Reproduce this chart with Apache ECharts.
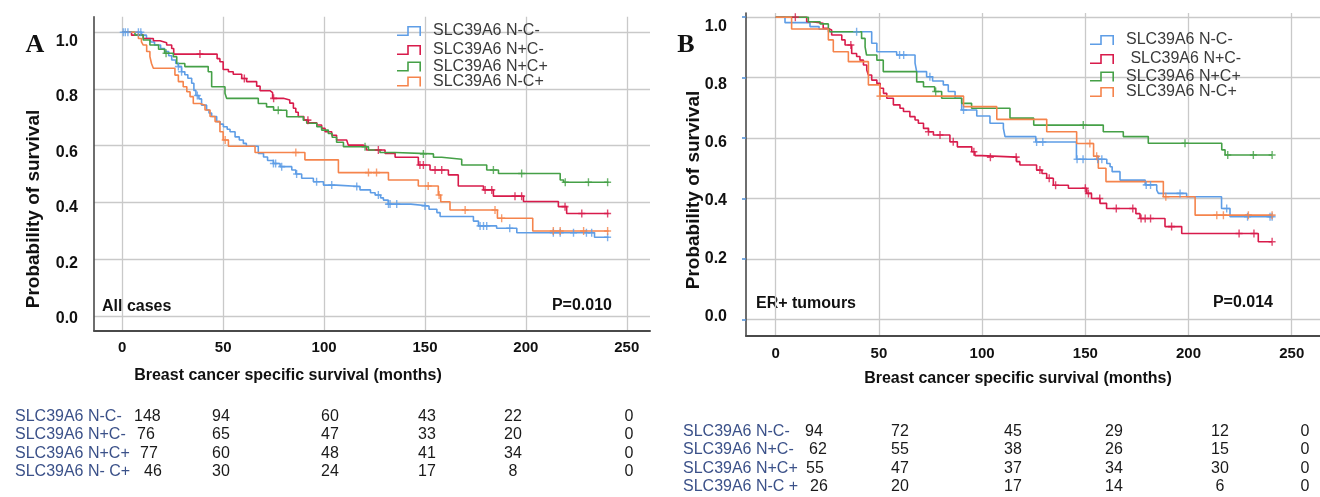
<!DOCTYPE html>
<html><head><meta charset="utf-8">
<script src="https://cdn.jsdelivr.net/npm/echarts@6.0.0/dist/echarts.min.js"></script>
<style>html,body{margin:0;padding:0;background:#fff}#c{width:1320px;height:497px}</style>
</head><body><div id="c"></div>
<script>
// ---------- data ----------
const xTicks = [0, 50, 100, 150, 200, 250];
const yTicks = [0, 0.2, 0.4, 0.6, 0.8, 1.0];
const groupNames = ['SLC39A6 N-C-', 'SLC39A6 N+C-', 'SLC39A6 N+C+', 'SLC39A6 N-C+'];
const legendTextA = ['SLC39A6 N-C-', 'SLC39A6 N+C-', 'SLC39A6 N+C+', 'SLC39A6 N-C+'];
const legendTextB = ['SLC39A6 N-C-', ' SLC39A6 N+C-', 'SLC39A6 N+C+', 'SLC39A6 N-C+'];

// Panel A (All cases): Kaplan-Meier steps [month, survival]
const kmA_NCneg = [[0,1],[9.6,0.99],[12,0.978],[14,0.966],[16,0.955],[19,0.943],[21,0.932],[23,0.917],[24.5,0.902],[26.5,0.89],[27.8,0.879],[29.4,0.861],[31,0.85],[32.5,0.838],[34.4,0.82],[35.5,0.795],[36.5,0.777],[38,0.765],[39.3,0.743],[41.8,0.726],[43,0.715],[44.3,0.703],[46.8,0.685],[48.5,0.676],[50.1,0.667],[52,0.658],[53.4,0.649],[55.9,0.631],[58,0.62],[60,0.608],[61.5,0.598],[67.4,0.573],[70,0.56],[72,0.548],[74.9,0.537],[78.2,0.526],[84,0.514],[86,0.5],[88.9,0.485],[94.7,0.473],[99.7,0.461],[106,0.456],[117.8,0.444],[123,0.434],[125.3,0.426],[128,0.416],[129.4,0.408],[131.8,0.394],[143,0.387],[152,0.376],[155.9,0.364],[157.5,0.35],[174,0.334],[176.5,0.317],[185.5,0.309],[195.5,0.293],[234,0.277],[241,0.277]];
const kmA_NposCneg = [[0,1],[4.6,0.99],[10.4,0.978],[15.4,0.97],[18.7,0.963],[22,0.955],[24.5,0.943],[25.5,0.923],[47,0.907],[48.4,0.896],[50,0.869],[52.6,0.861],[55,0.852],[59.2,0.837],[61.6,0.826],[66.6,0.81],[68.3,0.794],[73.2,0.787],[74.5,0.767],[79.8,0.761],[83,0.75],[84.8,0.732],[86,0.718],[87.2,0.703],[90,0.69],[92.2,0.681],[96.4,0.673],[98.8,0.661],[100.5,0.649],[103.8,0.637],[106.2,0.62],[111.2,0.614],[112,0.602],[119.5,0.597],[121,0.585],[130.2,0.573],[135.2,0.559],[146.7,0.532],[152.5,0.514],[161.6,0.497],[166.5,0.458],[179,0.444],[183.9,0.422],[198.8,0.403],[216.1,0.385],[220.2,0.361],[241,0.361]];
const kmA_NposCpos = [[0,1],[6.3,0.99],[10.4,0.973],[13.7,0.955],[18,0.94],[21,0.926],[25.3,0.914],[27,0.89],[31,0.879],[42.6,0.861],[44.3,0.808],[50.9,0.785],[51.7,0.767],[67.4,0.749],[71.5,0.737],[75,0.725],[81.5,0.702],[89.7,0.69],[91.4,0.679],[96.4,0.667],[98.8,0.655],[102.1,0.643],[104,0.63],[106.2,0.612],[109.6,0.596],[122,0.585],[127.7,0.576],[135.2,0.571],[154.2,0.559],[158.3,0.552],[168.2,0.532],[180.6,0.514],[186.4,0.502],[217,0.479],[218.7,0.471],[241,0.471]];
const kmA_NCpos = [[0,1],[8,0.978],[9.5,0.966],[10.4,0.955],[12.1,0.932],[13.7,0.914],[14.5,0.89],[15.4,0.873],[26.1,0.849],[27.8,0.826],[30.2,0.808],[32,0.79],[33.6,0.773],[35.2,0.749],[38.5,0.743],[41,0.726],[43.5,0.703],[46,0.685],[48.4,0.649],[50,0.62],[52.6,0.598],[65.8,0.576],[90.5,0.55],[107.1,0.505],[131.9,0.479],[146.7,0.458],[156.6,0.426],[157.8,0.402],[162.4,0.373],[185.9,0.344],[203.4,0.299],[241,0.299]];
// censoring times (months)
const censA_NCneg = [0.5,1.5,2.8,8,9.2,27.8,29.4,37.2,74.9,76,79,86.4,96.3,103.8,116.2,126.9,131.9,132.7,136,150,177.3,179,180.6,192,213.6,217,223.6,230,232.6,240.5];
const censA_NposCneg = [38.5,60.5,75,92,126.9,147.5,149.2,155,158.3,179.8,183.1,194.6,197.9,219.4,227.7,240.5];
const censA_NposCpos = [21.7,77.3,120.3,149.2,183.9,197.9,219.5,231,240.5];
const censA_NCpos = [51,86,122,126,151.6,157,169.9,184.7,188,213.6,217,228.6,240.5];

// Panel B (ER+ tumours)
const kmB_NCneg = [[0,1],[4.5,0.982],[16.6,0.969],[21,0.96],[25.5,0.952],[46.5,0.914],[49,0.886],[58.6,0.875],[67.5,0.848],[68.3,0.82],[73.1,0.803],[76,0.789],[81.2,0.776],[83.6,0.754],[86.9,0.732],[90.1,0.693],[97.4,0.673],[103.8,0.649],[110.3,0.632],[111.1,0.605],[126,0.587],[145.7,0.53],[160.4,0.516],[162,0.505],[163,0.489],[166.8,0.461],[179,0.445],[184.6,0.428],[185.4,0.417],[199.1,0.406],[216,0.367],[220.1,0.34],[240.5,0.34]];
const kmB_NposCneg = [[0,1],[15,0.985],[17.4,0.98],[23,0.963],[25.5,0.958],[27.1,0.941],[32,0.925],[33.6,0.908],[36.8,0.88],[39.2,0.87],[40.8,0.858],[42.5,0.842],[44.1,0.825],[44.9,0.809],[46.5,0.792],[49,0.781],[50.6,0.765],[52.2,0.748],[53.8,0.732],[57,0.71],[60.2,0.699],[61.9,0.688],[65,0.671],[67.5,0.66],[69.1,0.649],[71.6,0.632],[74,0.621],[76.4,0.61],[84.4,0.588],[88,0.571],[95,0.555],[96.5,0.542],[99.8,0.537],[116.7,0.522],[118.3,0.511],[126.4,0.494],[129,0.483],[131.3,0.467],[134.5,0.444],[141.8,0.434],[150.7,0.417],[153,0.4],[157.1,0.384],[160.3,0.367],[174.5,0.35],[176.5,0.334],[188.6,0.307],[196.7,0.284],[233.8,0.257],[240.5,0.257]];
const kmB_NposCpos = [[0,1],[15.8,0.985],[21.5,0.978],[25.5,0.963],[26.3,0.952],[41.6,0.93],[43.3,0.902],[44,0.875],[49,0.858],[52.1,0.82],[68.3,0.786],[71.6,0.77],[77,0.754],[80.4,0.732],[90.1,0.715],[94.9,0.699],[113.5,0.666],[125,0.643],[158.7,0.621],[168.4,0.605],[180.5,0.583],[216.1,0.561],[217.7,0.544],[240.5,0.544]];
const kmB_NCpos = [[0,1],[7.7,0.961],[25.5,0.925],[27.9,0.886],[35.2,0.853],[44.9,0.776],[50.5,0.739],[91,0.704],[107.1,0.662],[131.3,0.621],[145.8,0.582],[154,0.54],[156.3,0.5],[160,0.456],[187.8,0.406],[203.2,0.345],[240.5,0.345]];
const censB_NCneg = [39.2,60,62,74.7,91,126.4,129.4,146,148.9,156,158,179.5,181.6,195.9,218.5,228.6,239.5,240.5];
const censB_NposCneg = [9.5,36.4,74,79.6,86,96,104,116.5,128,132.5,135.6,150,151.5,157,165,173,177,179,181.6,191.8,224.5,231.7,240.5];
const censB_NposCpos = [77.5,149,198.3,219,231.4,240.5];
const censB_NCpos = [50.5,152.2,155.5,189,213.7,216.9,229,240.5];

// numbers at risk
const riskLabelsA = ['SLC39A6 N-C-', 'SLC39A6 N+C-', 'SLC39A6 N+C+', 'SLC39A6 N- C+'];
const riskA_NCneg = [148, 94, 60, 43, 22, 0];
const riskA_NposCneg = [76, 65, 47, 33, 20, 0];
const riskA_NposCpos = [77, 60, 48, 41, 34, 0];
const riskA_NCpos = [46, 30, 24, 17, 8, 0];
const riskLabelsB = ['SLC39A6 N-C-', 'SLC39A6 N+C-', 'SLC39A6 N+C+', 'SLC39A6 N-C +'];
const riskB_NCneg = [94, 72, 45, 29, 12, 0];
const riskB_NposCneg = [62, 55, 38, 26, 15, 0];
const riskB_NposCpos = [55, 47, 37, 34, 30, 0];
const riskB_NCpos = [26, 20, 17, 14, 6, 0];

// ---------- drawing ----------
const FONT = 'Liberation Sans, Arial, Helvetica, sans-serif';
const colors = ['#5e9de6', '#d81b4b', '#45a047', '#f5844c'];
const PLUS = 'path://M4,0H6V4H10V6H6V10H4V6H0V4H4Z';
// step-shaped legend key drawn as a thin filled outline
const STEP_ICON = 'path://M0,8.4L10.2,8.4L10.2,0L24,0L24,10L22.4,10L22.4,1.6L11.8,1.6L11.8,10L0,10Z';
const gridCol = '#c9c9c9';

function survAt(km, t) {
  let s = km[0][1];
  for (const p of km) { if (p[0] <= t) s = p[1]; else break; }
  return s;
}

const panels = [
  { prefix: 'A|', km: [kmA_NCneg, kmA_NposCneg, kmA_NposCpos, kmA_NCpos],
    cens: [censA_NCneg, censA_NposCneg, censA_NposCpos, censA_NCpos],
    legendText: legendTextA, legendX: 397, legendY: [31, 50, 66.5, 81.5] },
  { prefix: 'B|', km: [kmB_NCneg, kmB_NposCneg, kmB_NposCpos, kmB_NCpos],
    cens: [censB_NCneg, censB_NposCneg, censB_NposCpos, censB_NCpos],
    legendText: legendTextB, legendX: 1090, legendY: [40, 59, 76.5, 92] }
];

const series = [];
const legends = [];
panels.forEach((p, pi) => {
  p.km.forEach((km, i) => {
    const name = p.prefix + groupNames[i];
    series.push({
      type: 'line', name: name, xAxisIndex: pi, yAxisIndex: pi * 2,
      data: km, step: 'end', symbol: 'none', showSymbol: false,
      lineStyle: { width: 1.6, color: colors[i] }, itemStyle: { color: colors[i] },
      z: 3, silent: true
    });
    series.push({
      type: 'scatter', name: 'cens' + pi + i, xAxisIndex: pi, yAxisIndex: pi * 2,
      data: p.cens[i].map(t => [t, survAt(km, t)]),
      symbol: PLUS, symbolSize: [7, 8], itemStyle: { color: colors[i] }, z: 4, silent: true
    });
    legends.push({
      data: [name], orient: 'vertical', left: p.legendX, top: p.legendY[i] - 8, padding: 0,
      itemWidth: 24, itemHeight: 10, icon: STEP_ICON, selectedMode: false,
      itemStyle: { color: colors[i], borderWidth: 0 },
      textStyle: { fontSize: 16, color: '#3a3a3a', fontFamily: FONT, lineHeight: 16, padding: [0, 0, 0, 7] },
      formatter: () => p.legendText[i]
    });
  });
});

function xAxisCfg(gi, min, max, margin) {
  return {
    gridIndex: gi, type: 'value', min: min, max: max,
    axisLine: { show: true, onZero: false, lineStyle: { color: '#4a4a4a', width: 2 } },
    axisTick: { show: false, customValues: xTicks },
    axisLabel: { customValues: xTicks, fontSize: 15, fontWeight: 'bold', color: '#111', margin: margin, fontFamily: FONT },
    splitLine: { show: true, lineStyle: { color: gridCol, width: 1.3 } }
  };
}
function yMainCfg(gi, min, max, tick) {
  return {
    gridIndex: gi, type: 'value', min: min, max: max, position: 'left',
    axisLine: { show: true, onZero: false, lineStyle: { color: '#4a4a4a', width: 1.6 } },
    axisTick: tick ? { show: true, customValues: yTicks, length: 4, lineStyle: { color: '#4f8fd6', width: 1.5 } }
                   : { show: false, customValues: yTicks },
    axisLabel: { show: false },
    splitLine: { show: true, lineStyle: { color: gridCol, width: 1.3 } }
  };
}
function yLabelCfg(gi, min, max, margin) {
  return {
    gridIndex: gi, type: 'value', min: min, max: max, position: 'left', offset: 0,
    axisLine: { show: false }, axisTick: { show: false }, splitLine: { show: false },
    axisLabel: { customValues: yTicks, formatter: v => v.toFixed(1), fontSize: 16, fontWeight: 'bold',
                 color: '#111', margin: margin, fontFamily: FONT }
  };
}

function txt(x, y, text, opt) {
  opt = opt || {};
  return {
    type: 'text', x: x, y: y, rotation: opt.rotation || 0, silent: true,
    style: {
      text: text, fill: opt.color || '#111',
      font: (opt.weight || 'normal') + ' ' + (opt.size || 16) + 'px ' + (opt.family || FONT),
      align: opt.align || 'left', verticalAlign: 'middle',
      textAlign: opt.align || 'left', textVerticalAlign: 'middle'
    }
  };
}

const graphics = [];
graphics.push(txt(35, 45, 'A', { weight: 'bold', size: 26, family: 'Liberation Serif, Times New Roman, serif', align: 'center' }));
graphics.push(txt(686, 45, 'B', { weight: 'bold', size: 26, family: 'Liberation Serif, Times New Roman, serif', align: 'center' }));
graphics.push(txt(34, 209, 'Probability of survival', { weight: 'bold', size: 19, align: 'center', rotation: Math.PI / 2 }));
graphics.push(txt(694, 190, 'Probability of survival', { weight: 'bold', size: 19, align: 'center', rotation: Math.PI / 2 }));
graphics.push(txt(288, 376, 'Breast cancer specific survival (months)', { weight: 'bold', size: 16, align: 'center' }));
graphics.push(txt(1018, 379, 'Breast cancer specific survival (months)', { weight: 'bold', size: 16, align: 'center' }));
graphics.push(txt(102, 307, 'All cases', { weight: 'bold', size: 16 }));
graphics.push(txt(612, 306, 'P=0.010', { weight: 'bold', size: 16, align: 'right' }));
graphics.push(txt(756, 304, 'ER+ tumours', { weight: 'bold', size: 16 }));
graphics.push(txt(1273, 303, 'P=0.014', { weight: 'bold', size: 16, align: 'right' }));

// at-risk tables
const tables = [
  { labels: riskLabelsA, rows: [riskA_NCneg, riskA_NposCneg, riskA_NposCpos, riskA_NCpos],
    labelX: 15, firstX: [134, 137, 140, 144], colX: [221, 330, 427, 513, 629], rowY: [417, 435, 454, 472] },
  { labels: riskLabelsB, rows: [riskB_NCneg, riskB_NposCneg, riskB_NposCpos, riskB_NCpos],
    labelX: 683, firstX: [805, 809, 806, 810], colX: [900, 1013, 1114, 1220, 1305], rowY: [432, 450, 469, 487] }
];
tables.forEach(tb => {
  tb.rows.forEach((row, r) => {
    const y = tb.rowY[r];
    graphics.push(txt(tb.labelX, y, tb.labels[r], { color: '#3b5189', size: 16 }));
    graphics.push(txt(tb.firstX[r], y, String(row[0]), { color: '#1a1a1a', size: 16 }));
    for (let c = 1; c < row.length; c++) {
      graphics.push(txt(tb.colX[c - 1], y, String(row[c]), { color: '#1a1a1a', size: 16, align: 'center' }));
    }
  });
});

const option = {
  backgroundColor: '#fff',
  animation: false,
  grid: [
    { left: 94, top: 16.7, width: 556, height: 314.1, containLabel: false },
    { left: 746, top: 13, width: 574, height: 323, containLabel: false }
  ],
  xAxis: [xAxisCfg(0, -14, 261.5, 10), xAxisCfg(1, -14.4, 263.7, 10)],
  yAxis: [
    yMainCfg(0, -0.053, 1.055, false), yLabelCfg(0, -0.0425, 1.0898, 16),
    yMainCfg(1, -0.055, 1.014, true), yLabelCfg(1, -0.0668, 1.0458, 19)
  ],
  legend: legends,
  series: series,
  graphic: { elements: graphics }
};

const chart = echarts.init(document.getElementById('c'), null, { renderer: 'canvas' });
chart.setOption(option);
</script>
</body></html>
